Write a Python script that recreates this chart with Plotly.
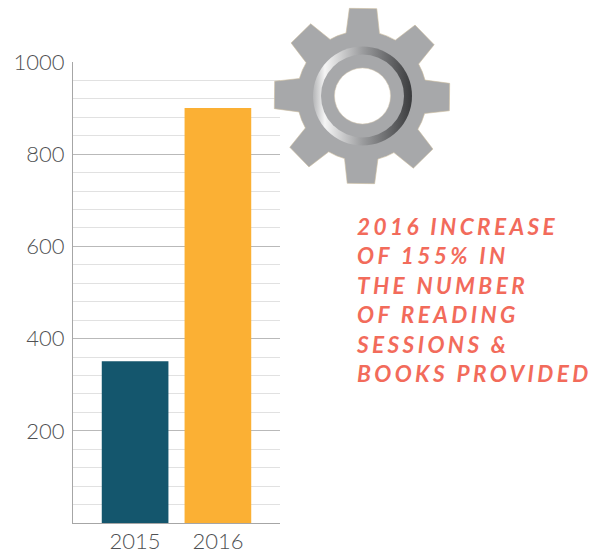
import base64, math
import plotly.graph_objects as go

categories = ["2015", "2016"]
values = [351, 900]
bar_colors = ["#14566d", "#fbb034"]
y_tick_values = [200, 400, 600, 800, 1000]
callout_lines = ["2016 INCREASE", "OF 155% IN", "THE NUMBER", "OF READING", "SESSIONS &amp;", "BOOKS PROVIDED"]

TEXT_GRAY = "#505153"
FONT = "Lato"

# Plot area in page pixels
W, H = 602, 552
L, R, T, B = 73, 280, 62, 523
PW, PH = R - L, B - T


def gear_svg():
    size = 184
    c = size / 2
    rot = math.radians(0.7)
    body, tip = 65.0, 87.5
    base_hw, tip_hw = 16.7, 13.7
    def pt(r_along, side, a):
        x = r_along * math.sin(a) + side * math.cos(a)
        y = -r_along * math.cos(a) + side * math.sin(a)
        return f"{c + x:.2f} {c + y:.2f}"
    d = ""
    for i in range(8):
        a = rot + i * math.pi / 4
        along = math.sqrt(body ** 2 - base_hw ** 2)
        d += ("M" if i == 0 else f"A{body} {body} 0 0 1 ") + pt(along, -base_hw, a)
        d += " L" + pt(tip, -tip_hw, a) + " L" + pt(tip, tip_hw, a) + " L" + pt(along, base_hw, a) + " "
    d += f"A{body} {body} 0 0 1 " + pt(math.sqrt(body ** 2 - base_hw ** 2), -base_hw, rot) + "Z"
    svg = f"""<svg xmlns="http://www.w3.org/2000/svg" width="{size}" height="{size}" viewBox="0 0 {size} {size}">
<defs><linearGradient id="g" x1="0" x2="1" y1="0" y2="0">
<stop offset="0" stop-color="#b4b5b7"/><stop offset="0.12" stop-color="#f5f5f5"/>
<stop offset="0.5" stop-color="#9b9c9e"/><stop offset="1" stop-color="#3a3b3d"/></linearGradient></defs>
<path d="{d}" fill="#a7a8aa" stroke="#cdbd9f" stroke-width="0.6"/>
<circle cx="{c + 0.5}" cy="{c}" r="49.5" fill="url(#g)"/>
<circle cx="{c + 0.5}" cy="{c}" r="41.5" fill="#a7a8aa"/>
<circle cx="{c + 0.5}" cy="{c}" r="28" fill="#ffffff" stroke="#dccfb5" stroke-width="0.5"/>
</svg>"""
    return "data:image/svg+xml;base64," + base64.b64encode(svg.encode()).decode()


fig = go.Figure(go.Bar(x=categories, y=values, marker_color=bar_colors, marker_line_width=0, width=0.805))

fig.update_layout(
    width=W, height=H,
    margin=dict(l=L, r=W - R, t=T, b=H - B, pad=0, autoexpand=False),
    paper_bgcolor="#ffffff", plot_bgcolor="#ffffff",
    showlegend=False,
    font=dict(family=FONT, color=TEXT_GRAY, size=22),
    annotations=[dict(
        text="<br>".join(callout_lines),
        xref="paper", yref="paper", xanchor="left", yanchor="top", align="left",
        x=(355 - L) / PW, y=(B - 212) / PH, showarrow=False,
        font=dict(family=FONT, size=22.6, color="#f26b5b", weight=700, style="italic"),
        borderpad=0,
    )],
    images=[dict(
        source=gear_svg(), xref="paper", yref="paper", layer="above",
        x=(362 - 92 - L) / PW, y=(B - (96 - 92)) / PH,
        sizex=184 / PW, sizey=184 / PH, sizing="stretch", xanchor="left", yanchor="top",
    )],
)
fig.update_xaxes(
    type="category", range=[-0.75, 1.75], showgrid=False, fixedrange=True,
    showline=True, linecolor="#a6a6a6", linewidth=1.3,
    ticks="", ticklabelstandoff=-2,
    tickfont=dict(family=FONT, size=22, color=TEXT_GRAY, weight=300),
)
fig.update_yaxes(
    range=[0, 1000], tickmode="array", tickvals=y_tick_values, fixedrange=True,
    showline=True, linecolor="#a6a6a6", linewidth=1.3, zeroline=False,
    showgrid=True, gridcolor="#b9b9b9", gridwidth=1.3,
    ticks="outside", ticklen=3, tickcolor="rgba(0,0,0,0)",
    tickfont=dict(family=FONT, size=22, color=TEXT_GRAY, weight=300),
    minor=dict(tickmode="linear", tick0=0, dtick=40, showgrid=True, gridcolor="#e1e1e1", gridwidth=1.3, ticks=""),
)

post = """
document.body.style.margin = '0';
document.querySelectorAll('.annotation-text').forEach(function (t) { t.style.letterSpacing = '3.4px'; });
"""
fig.write_html("out.html", post_script=post, config={"displayModeBar": False})
